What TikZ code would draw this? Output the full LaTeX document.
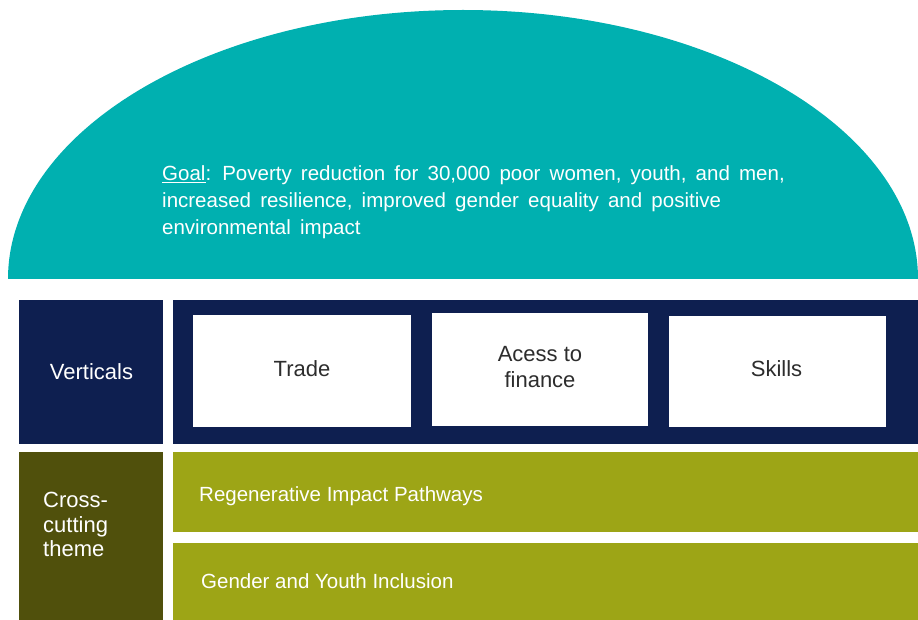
\documentclass[tikz,border=0pt]{standalone}
\usepackage{fontspec}
\setmainfont{Liberation Sans}
\definecolor{dometeal}{RGB}{0,176,176}
\definecolor{navyblue}{RGB}{14,31,80}
\definecolor{darkolive}{RGB}{80,80,12}
\definecolor{limeolive}{RGB}{157,165,22}
\definecolor{boxtext}{RGB}{45,45,45}
\newcommand{\goalfontsetup}{\fontsize{20.5}{27}\selectfont\spaceskip=9.2pt\relax}
\begin{document}
\begin{tikzpicture}[x=1pt,y=-1pt,
  goaltext/.style={anchor=base west,text=white,inner sep=0pt,font=\goalfontsetup},
  labeltext/.style={inner sep=0pt,font=\fontsize{22}{26}\selectfont},
  rowtext/.style={inner sep=0pt,anchor=base west,text=white,font=\fontsize{20.5}{26}\selectfont},
  whitebox/.style={fill=white,draw=none}]
\useasboundingbox (0,0) rectangle (918,620);
\begin{scope}
\clip (0,0) rectangle (918,620);
% dome
\fill[dometeal] (8,279) arc[start angle=180,end angle=360,x radius=455,y radius=269] -- cycle;
% verticals row
\fill[navyblue] (19,300) rectangle (163,444);
\fill[navyblue] (173,300) rectangle (918,444);
\fill[whitebox] (193,315) rectangle (411,427);
\fill[whitebox] (432,313) rectangle (648,426);
\fill[whitebox] (669,316) rectangle (886,427);
% cross-cutting rows
\fill[darkolive] (19,452) rectangle (163,625);
\fill[limeolive] (173,452) rectangle (918,532);
\fill[limeolive] (173,543) rectangle (918,625);
\end{scope}
% texts
\node[goaltext] (goal1) at (162,181) {\underline{Goal}: Poverty reduction for 30,000 poor women, youth, and men,};
\node[goaltext] (goal2) at (162,208) {increased resilience, improved gender equality and positive};
\node[goaltext] (goal3) at (162,235) {environmental impact};
\node[labeltext,anchor=base,text=white] (verticals) at (91.5,379) {Verticals};
\node[labeltext,anchor=base,text=boxtext] (trade) at (302,376) {Trade};
\node[labeltext,anchor=base,text=boxtext] (finance1) at (540,361) {Acess to};
\node[labeltext,anchor=base,text=boxtext] (finance2) at (540,387) {finance};
\node[labeltext,anchor=base,text=boxtext] (skills) at (776.5,376) {Skills};
\node[labeltext,anchor=base west,text=white] (cross1) at (43,507) {Cross-};
\node[labeltext,anchor=base west,text=white] (cross2) at (43,532) {cutting};
\node[labeltext,anchor=base west,text=white] (cross3) at (43,556) {theme};
\node[rowtext] (regen) at (199,501) {Regenerative Impact Pathways};
\node[rowtext] (gender) at (201,588) {Gender and Youth Inclusion};
\end{tikzpicture}
\end{document}
